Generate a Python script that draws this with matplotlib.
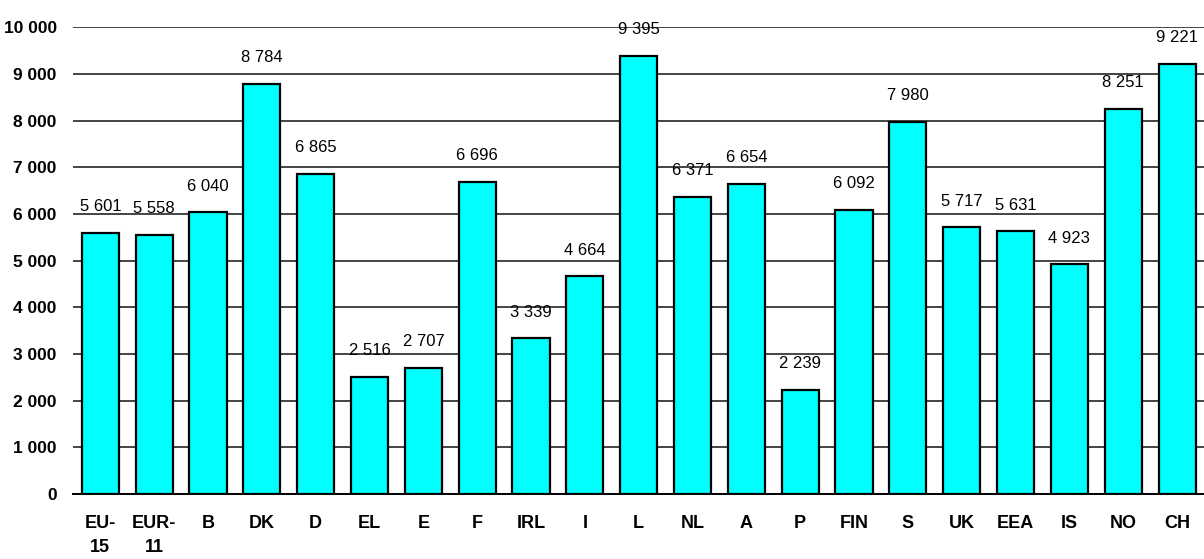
import matplotlib
matplotlib.use("Agg")
import matplotlib.pyplot as plt
from matplotlib.ticker import FuncFormatter

countries = ["EU-\n15", "EUR-\n11", "B", "DK", "D", "EL", "E", "F", "IRL", "I", "L",
             "NL", "A", "P", "FIN", "S", "UK", "EEA", "IS", "NO", "CH"]
values = [5601, 5558, 6040, 8784, 6865, 2516, 2707, 6696, 3339, 4664, 9395,
          6371, 6654, 2239, 6092, 7980, 5717, 5631, 4923, 8251, 9221]
yticks = list(range(0, 10001, 1000))

plt.rcParams['font.family'] = ['Liberation Sans', 'DejaVu Sans']


def spaced(v, pos=None):
    return f"{int(v):,}".replace(",", " ")


fig = plt.figure(figsize=(12.04, 5.59), dpi=100)
ax = fig.add_axes([0.061, 0.116, 0.939, 0.835])

x = list(range(len(countries)))
ax.bar(x, values, width=0.69, color="#00FFFF", edgecolor="black", linewidth=1.6, zorder=3)

# value labels above each bar
for xi, v in zip(x, values):
    ax.text(xi, v + 400, spaced(v), ha="center", va="bottom", fontsize=12)

ax.set_xlim(-0.5, len(countries) - 0.5)
ax.set_ylim(0, 10000)
ax.set_yticks(yticks)
ax.yaxis.set_major_formatter(FuncFormatter(spaced))
ax.set_xticks(x)
ax.set_xticklabels(countries, fontsize=13, fontweight="bold", va="top", linespacing=1.55)
for lbl in ax.get_yticklabels():
    lbl.set_fontsize(12.5)
    lbl.set_fontweight("bold")

ax.yaxis.grid(True, color="#444444", linewidth=1.4, zorder=0)
ax.tick_params(axis="x", length=0, pad=15)
ax.tick_params(axis="y", length=0, pad=12)
for s in ["top", "right", "left"]:
    ax.spines[s].set_visible(False)
ax.spines["bottom"].set_color("black")
ax.spines["bottom"].set_linewidth(1.4)
ax.spines["bottom"].set_zorder(4)

fig.savefig("out.png", dpi=100)
